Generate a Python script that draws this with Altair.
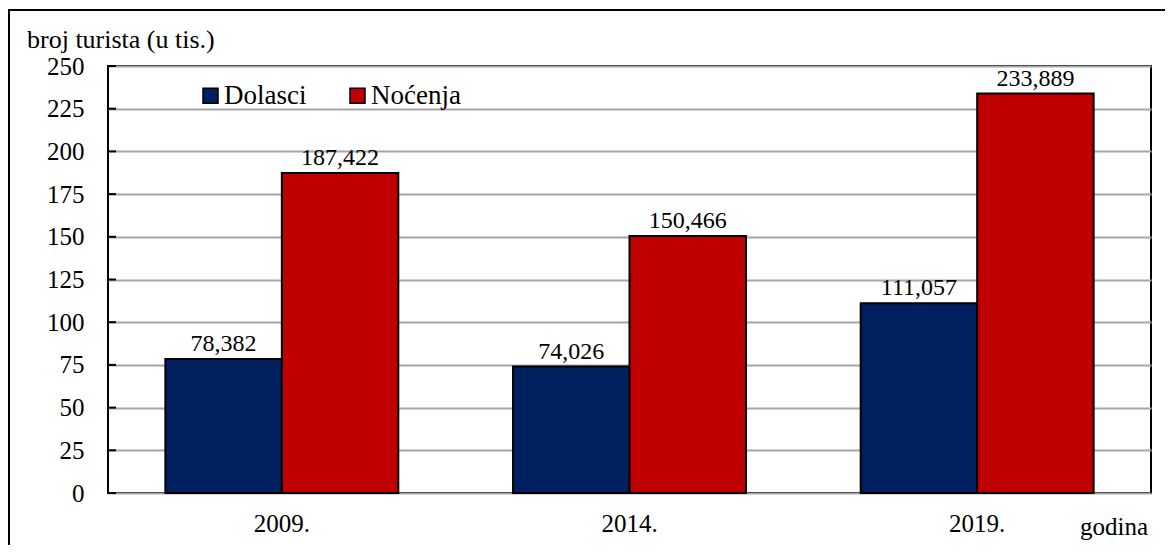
import altair as alt
import pandas as pd

years = ["2009.", "2014.", "2019."]
series = ["Dolasci", "Noćenja"]
dolasci = [78.382, 74.026, 111.057]
nocenja = [187.422, 150.466, 233.889]
colors = ["#002060", "#C00000"]
y_ticks = list(range(0, 251, 25))
y_title = "broj turista (u tis.)"
x_title = "godina"

rows = []
for i, yr in enumerate(years):
    rows.append({"godina": yr, "serija": series[0], "vrijednost": dolasci[i]})
    rows.append({"godina": yr, "serija": series[1], "vrijednost": nocenja[i]})
df = pd.DataFrame(rows)

W, H = 1043, 427
FONT = "'Liberation Serif', 'Times New Roman', Tinos, 'DejaVu Serif', serif"

x_enc = alt.X(
    "godina:N", sort=years,
    scale=alt.Scale(paddingInner=0.33, paddingOuter=0.165),
    axis=alt.Axis(title=None, labelAngle=0, labelFontSize=25, labelPadding=18,
                  ticks=False, domain=False, labelFont=FONT, labelColor="black"),
)
xoff = alt.XOffset("serija:N", sort=series,
                   scale=alt.Scale(domain=series, paddingInner=0, paddingOuter=0))
y_enc = alt.Y(
    "vrijednost:Q",
    scale=alt.Scale(domain=[0, 250], nice=False),
    axis=alt.Axis(title=None, values=y_ticks, grid=True, gridColor="#a6a6a6", gridWidth=2,
                  ticks=False, domain=False, labelFontSize=25, labelPadding=24,
                  labelFont=FONT, labelColor="black"),
)

base = alt.Chart(df)
bars = base.mark_bar(stroke="black", strokeWidth=2).encode(
    x=x_enc, xOffset=xoff, y=y_enc,
    color=alt.Color(
        "serija:N",
        scale=alt.Scale(domain=series, range=colors),
        legend=alt.Legend(title=None, orient="none", legendX=89, legendY=16,
                          direction="horizontal", symbolType="square", symbolSize=225,
                          symbolStrokeColor="black", symbolStrokeWidth=1.5,
                          symbolOpacity=1, labelFontSize=27, labelFont=FONT,
                          labelColor="black", labelOffset=0, columnPadding=37),
    ),
)
labels = base.transform_calculate(
    lbl="replace(format(datum.vrijednost, '.3f'), '.', ',')"
).mark_text(baseline="alphabetic", dy=-8, fontSize=24, font=FONT, color="black").encode(
    x=x_enc, xOffset=xoff, y=y_enc, text="lbl:N"
)
ticks = alt.Chart(pd.DataFrame({"vrijednost": y_ticks})).mark_rule(
    color="black", strokeWidth=2
).encode(y=y_enc, x=alt.value(0), x2=alt.value(8))

one = alt.Data(values=[{"a": 1}])
title_txt = alt.Chart(one).mark_text(
    align="left", baseline="alphabetic", fontSize=26, font=FONT, color="black"
).encode(x=alt.value(-81), y=alt.value(-18), text=alt.value(y_title))
god_txt = alt.Chart(one).mark_text(
    align="left", baseline="alphabetic", fontSize=25, font=FONT, color="black"
).encode(x=alt.value(972), y=alt.value(469), text=alt.value(x_title))
frame = alt.Chart(one).mark_rect(fillOpacity=0, stroke="black", strokeWidth=2).encode(
    x=alt.value(-99), x2=alt.value(1300), y=alt.value(-56), y2=alt.value(700)
)

chart = (
    alt.layer(frame, bars, labels, ticks, title_txt, god_txt)
    .properties(
        width=W, height=H,
        padding={"left": 100, "top": 58, "right": 14, "bottom": 52},
        autosize=alt.AutoSizeParams(type="none"),
    )
    .configure(background="white", font=FONT)
    .configure_view(stroke="black", strokeWidth=2)
    .configure_axis(labelFont=FONT)
    .configure_legend(labelFont=FONT)
    .configure_text(font=FONT)
)

chart.save("out.html", embed_options={"renderer": "svg", "actions": False})
